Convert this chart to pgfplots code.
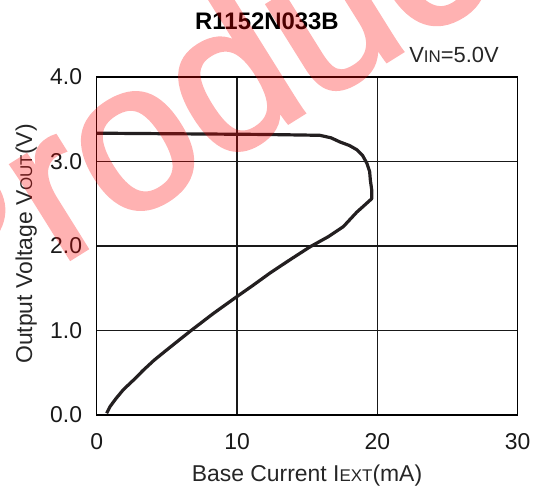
\documentclass[border=0pt]{standalone}
\usepackage{fontspec}
\setmainfont{Liberation Sans}
\newfontfamily\wmfont[FakeBold=2]{Liberation Sans}
\usepackage{pgfplots}
\pgfplotsset{compat=1.18}

\definecolor{curve}{HTML}{231F20}
\newcommand{\sm}[1]{{\fontsize{17}{17}\selectfont #1}}

\begin{document}
\begin{tikzpicture}
\useasboundingbox (0,0) rectangle (540bp,490bp);
\begin{axis}[
    scale only axis,
    width=421bp, height=338bp,
    at={(96.7bp,75bp)}, anchor=south west,
    xmin=0, xmax=30, ymin=0, ymax=4,
    xtick={0,10,20,30},
    ytick={0,1,2,3,4},
    major tick length=0pt,
    grid=major,
    major grid style={black!90, line width=1.25bp},
    axis line style={black, line width=1.4bp},
    /pgf/number format/assume math mode=true,
    yticklabel={\pgfmathprintnumber[fixed,fixed zerofill,precision=1]{\tick}},
    xticklabel style={anchor=base, inner sep=0pt, yshift=-35bp},
    yticklabel style={anchor=east, inner sep=0pt, xshift=-14.5bp},
    ticklabel style={font=\fontsize{23}{23}\selectfont, text=black!90},
]
\addplot[curve, line width=3.2bp, line join=round] coordinates {
(0.0,3.335) (4.0,3.33) (8.0,3.325) (12.0,3.32) (15.9,3.31)
(16.7,3.28) (17.35,3.23) (18.0,3.19) (18.53,3.14) (18.95,3.07)
(19.25,2.98) (19.45,2.88) (19.5,2.78) (19.6,2.66) (19.6,2.56)
(19.0,2.47) (18.53,2.40) (17.58,2.23) (16.5,2.11) (15.2,1.99)
(13.8,1.84) (12.35,1.68) (11.1,1.53) (9.98,1.40) (8.3,1.20)
(6.65,0.99) (4.99,0.77) (4.1,0.65) (3.32,0.53) (2.6,0.41)
(1.9,0.30) (1.4,0.20) (0.95,0.10) (0.71,0.02)
};
\end{axis}
\node[anchor=base, font=\bfseries\fontsize{24}{24}\selectfont] at (267bp,460.5bp) {R1152N033B};
\node[anchor=base east, inner sep=0pt, font=\fontsize{22}{22}\selectfont, text=black!85] at (499bp,427.3bp) {V\sm{IN}=5.0V};
\node[anchor=base, inner sep=0pt, font=\fontsize{23}{23}\selectfont, text=black!85] at (307bp,8.3bp) {Base Current I\sm{EXT}(mA)};
\node[anchor=base, rotate=90, inner sep=0pt, font=\fontsize{23}{23}\selectfont, text=black!85] at (32bp,246bp) {Output Voltage V\sm{OUT}(V)};
% watermark
\begin{scope}[overlay, transparency group, opacity=0.3]
\node[anchor=base west, inner sep=0pt, rotate=32, text=red,
      font=\wmfont\fontsize{210}{210}\selectfont] at (-60bp,150bp) {Product};
\end{scope}
\end{tikzpicture}
\end{document}
